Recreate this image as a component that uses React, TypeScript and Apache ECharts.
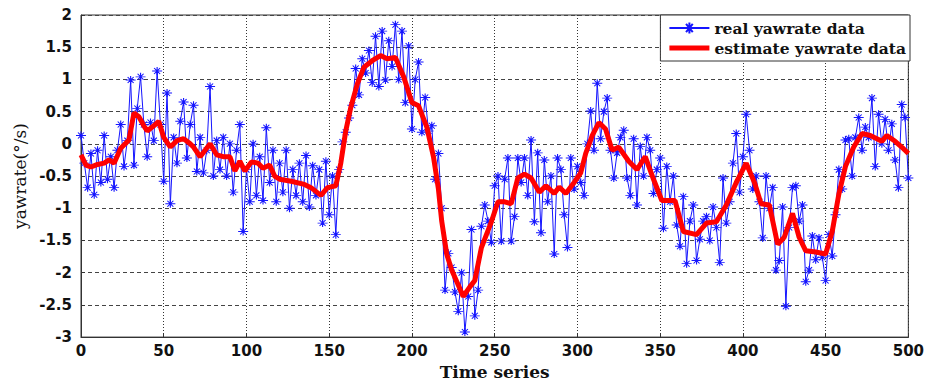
import React, { useEffect, useRef } from "react";
import * as echarts from "echarts";

const realX: number[] = [];
for (let i = 0; i <= 250; i++) realX.push(i * 2);

const realY: number[] = [
  0.13, -0.3, -0.68, -0.15, -0.79, -0.1, -0.6, 0.13, -0.55, -0.2,
  -0.68, -0.1, 0.3, -0.35, 0.05, 0.99, -0.33, 0.55, 1.04, 0.3,
  -0.2, 0.33, 0.05, 1.13, 0.3, -0.58, 0.79, -0.93, 0.1, -0.3,
  0.35, 0.65, -0.22, 0.3, 0.6, -0.43, 0.1, -0.45, -0.1, 0.89,
  -0.5, 0.05, -0.4, 0.1, -0.5, 0.0, -0.75, -0.1, 0.3, -1.36,
  -0.4, -0.9, 0.0, -0.8, -0.2, -0.88, 0.25, -0.6, -0.1, -0.9,
  -0.3, -0.75, -0.1, -1.0, -0.4, -0.8, -0.3, -0.9, -0.18, -0.98,
  -0.34, -0.8, -0.4, -1.23, -0.27, -1.1, -0.5, -1.41, -0.4, 0.03,
  0.18, 0.4, 0.6, 1.17, 0.76, 1.32, 1.1, 1.45, 0.95, 1.67,
  0.89, 1.75, 0.99, 1.6, 1.2, 1.85, 1.0, 1.75, 0.64, 1.52,
  0.23, 1.0, 1.27, 0.18, 0.72, 0.2, 0.28, -0.55, -0.15, -1.0,
  -2.27, -1.7, -1.92, -2.3, -2.6, -2.0, -2.92, -2.37, -1.33, -2.67,
  -2.27, -1.28, -0.95, -1.2, -1.53, -0.65, -0.5, -1.51, -0.55, -0.22,
  -1.51, -1.13, -0.22, -0.6, -0.22, -0.8, 0.06, -1.21, -0.14, -1.38,
  -0.25, -0.9, -0.5, -1.71, -0.22, -0.4, -1.1, -1.61, -0.22, -0.7,
  -0.35, -0.6, -0.8, 0.0, 0.51, -0.1, 0.94, 0.08, 0.5, 0.71,
  -0.1, -0.53, -0.14, 0.1, 0.21, -0.53, -0.8, 0.08, -0.95, -0.04,
  -0.5, 0.1, -0.1, -0.77, -0.4, -0.22, -1.31, -0.35, -0.9, -0.5,
  -1.26, -1.59, -0.82, -1.86, -1.2, -0.95, -1.81, -1.48, -1.2, -1.13,
  -1.5, -0.98, -1.3, -1.84, -0.53, -1.23, -0.9, -0.3, 0.16, -0.75,
  -0.2, 0.46, -0.1, -0.7, -0.5, -0.9, -1.46, -0.5, -1.0, -0.68,
  -1.96, -1.81, -0.98, -2.52, -1.3, -0.68, -0.65, -1.2, -0.95, -2.14,
  -1.96, -1.43, -1.8, -1.46, -1.76, -2.12, -1.41, -1.74, -1.1, -0.4,
  -0.7, 0.06, 0.08, -0.5, 0.1, 0.41, -0.1, 0.26, 0.1, 0.71,
  -0.35, 0.46, 0.0, 0.38, -0.1, 0.31, -0.25, -0.68, 0.61, 0.41,
  -0.53,
];

const estX: number[] = [
  0, 3, 6, 10, 14, 17, 20, 24, 29, 32, 35, 38, 40, 44, 47, 50, 54, 58, 62, 66,
  68, 72, 75, 78, 82, 86, 90, 93, 96, 99, 103, 107, 110, 114, 117, 120, 127, 135, 139, 145,
  149, 154, 157, 160, 163, 167, 171, 176, 181, 185, 190, 195, 200, 204, 209, 213, 216, 218, 221, 224,
  228, 231, 235, 238, 242, 248, 252, 256, 260, 264, 268, 272, 277, 281, 286, 289, 293, 298, 302, 305,
  309, 313, 317, 321, 325, 331, 336, 341, 346, 351, 359, 364, 372, 378, 384, 390, 396, 402, 407, 411,
  416, 421, 425, 430, 434, 438, 444, 450, 454, 458, 462, 467, 472, 477, 481, 484, 487, 492, 496, 500,
];

const estY: number[] = [
  -0.17, -0.33, -0.36, -0.32, -0.3, -0.25, -0.3, -0.07, 0.06, 0.48, 0.42, 0.28, 0.2, 0.28, 0.35, 0.1, -0.05, 0.05, 0.08, 0.0,
  -0.05, -0.2, -0.1, 0.0, -0.17, -0.2, -0.2, -0.42, -0.27, -0.42, -0.28, -0.3, -0.38, -0.33, -0.5, -0.55, -0.58, -0.63, -0.68, -0.8,
  -0.68, -0.65, -0.3, 0.2, 0.56, 0.93, 1.19, 1.29, 1.37, 1.32, 1.34, 1.04, 0.64, 0.59, 0.26, -0.2, -0.7, -1.2, -1.71, -1.96,
  -2.19, -2.37, -2.22, -2.12, -1.61, -1.21, -0.9, -0.9, -0.93, -0.53, -0.47, -0.53, -0.75, -0.65, -0.77, -0.67, -0.77, -0.6, -0.45, -0.15,
  0.13, 0.33, 0.23, -0.1, -0.05, -0.27, -0.4, -0.2, -0.55, -0.88, -0.88, -1.36, -1.41, -1.23, -1.21, -0.95, -0.6, -0.3, -0.6, -0.93,
  -0.95, -1.56, -1.45, -1.08, -1.45, -1.66, -1.68, -1.71, -1.36, -0.78, -0.35, -0.05, 0.16, 0.13, 0.08, 0.04, 0.13, 0.04, -0.05, -0.15,
];

const xTicks = [0, 50, 100, 150, 200, 250, 300, 350, 400, 450, 500];
const yTicks = [-3, -2.5, -2, -1.5, -1, -0.5, 0, 0.5, 1, 1.5, 2];

const STAR = "path://M0,-4L0,4M-5,0L5,0M-3,-3L3,3M-3,3L3,-3";
const THICK_LINE = "path://M0,0L40,0L40,5L0,5Z";

export default function App() {
  const ref = useRef<HTMLDivElement>(null);
  useEffect(() => {
    if (!ref.current) return;
    const chart = echarts.init(ref.current, undefined, { renderer: "svg" });
    const tickFont = {
      fontFamily: "DejaVu Sans",
      fontWeight: "bold" as const,
      fontSize: 15,
      color: "#111",
    };
    chart.setOption({
      animation: false,
      backgroundColor: "#fff",
      grid: {
        left: 81,
        right: 17,
        top: 15,
        bottom: 40,
        show: true,
        borderColor: "#333",
        borderWidth: 1,
        backgroundColor: "transparent",
      },
      legend: {
        orient: "vertical",
        right: 17,
        top: 15,
        backgroundColor: "#fff",
        borderColor: "#333",
        borderWidth: 1,
        borderRadius: 0,
        padding: [5, 4, 5, 8],
        itemGap: 4,
        itemWidth: 40,
        itemHeight: 14,
        textStyle: {
          fontFamily: "DejaVu Serif",
          fontWeight: "bold",
          fontSize: 15.5,
          color: "#111",
        },
        data: [
          { name: "real yawrate data" },
          { name: "estimate yawrate data", icon: THICK_LINE, itemStyle: { color: "#ff0000" } },
        ],
      },
      xAxis: {
        type: "value",
        min: xTicks[0],
        max: xTicks[xTicks.length - 1],
        interval: 50,
        name: "Time series",
        nameLocation: "middle",
        nameGap: 22,
        nameTextStyle: {
          fontFamily: "DejaVu Serif",
          fontWeight: "bold",
          fontSize: 17,
          color: "#111",
        },
        axisLine: { show: true, onZero: false, lineStyle: { color: "#333", width: 1 } },
        axisTick: { show: true, inside: true, length: 4, lineStyle: { color: "#333" } },
        axisLabel: { ...tickFont, margin: 6 },
        splitLine: {
          show: true,
          lineStyle: { color: "#333", type: [1, 2], width: 1 },
        },
      },
      yAxis: {
        type: "value",
        min: yTicks[0],
        max: yTicks[yTicks.length - 1],
        interval: 0.5,
        name: "yawrate(°/s)",
        nameLocation: "middle",
        nameGap: 47,
        nameTextStyle: {
          fontFamily: "DejaVu Serif",
          fontSize: 17,
          color: "#111",
        },
        axisLine: { show: true, onZero: false, lineStyle: { color: "#333", width: 1 } },
        axisTick: { show: true, inside: true, length: 4, lineStyle: { color: "#333" } },
        axisLabel: { ...tickFont, margin: 9 },
        splitLine: {
          show: true,
          lineStyle: { color: "#444", type: [4, 3], width: 1 },
        },
      },
      series: [
        {
          name: "real yawrate data",
          type: "line",
          data: realX.map((x, i) => [x, realY[i]]),
          symbol: STAR,
          symbolSize: [10, 8],
          showSymbol: true,
          itemStyle: { color: "#1515ff", borderColor: "#1515ff", borderWidth: 1 },
          lineStyle: { color: "#1515ff", width: 1 },
          z: 2,
        },
        {
          name: "estimate yawrate data",
          type: "line",
          data: estX.map((x, i) => [x, estY[i]]),
          symbol: "none",
          itemStyle: { color: "#ff0000" },
          lineStyle: { color: "#ff0000", width: 5 },
          z: 3,
        },
      ],
    });
    return () => chart.dispose();
  }, []);
  return <div ref={ref} style={{ width: 927, height: 385, position: "absolute", left: 0, top: 0 }} />;
}
